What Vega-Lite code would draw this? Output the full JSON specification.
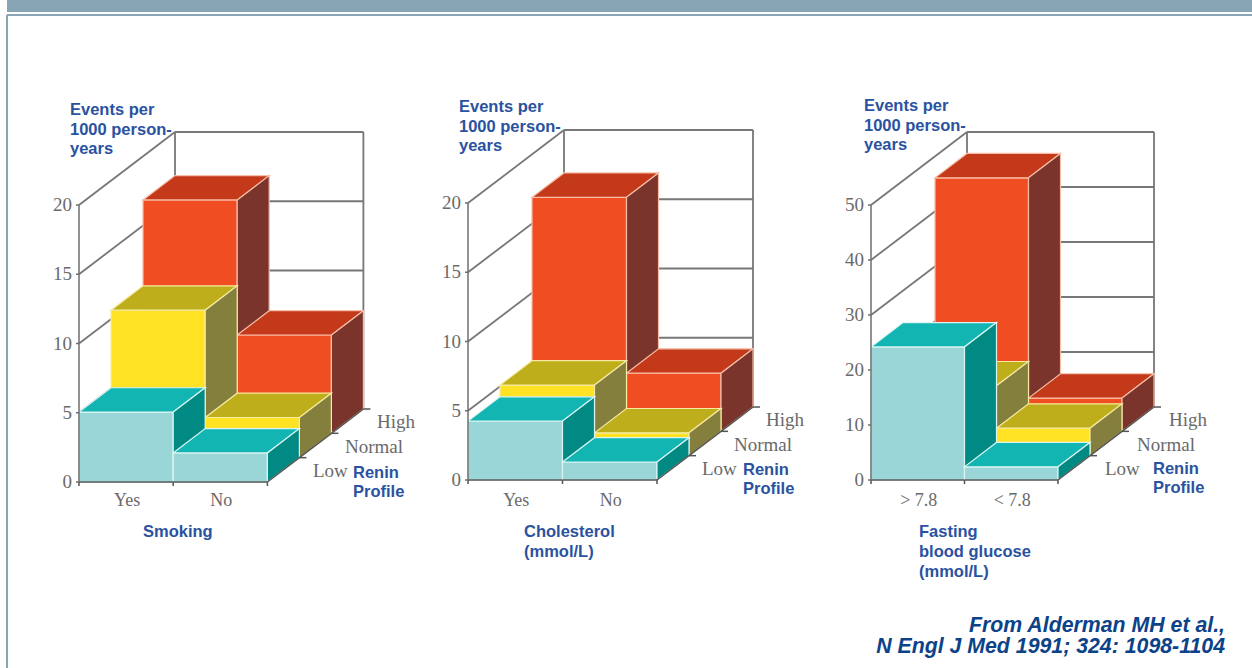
{
  "$schema": "https://vega.github.io/schema/vega-lite/v6.json",
  "autosize": {"type": "fit", "contains": "padding"},
  "width": 1252,
  "height": 668,
  "padding": 0,
  "background": "#ffffff",
  "config": {"view": {"stroke": null}},
  "params": [
    {"name": "panels", "value": ["Smoking", "Cholesterol", "Fasting blood glucose"]},
    {"name": "ox", "value": [79, 468, 871]},
    {"name": "oy", "value": [482, 480, 480]},
    {"name": "bw", "value": [94.2, 94.5, 93.5]},
    {"name": "unit", "value": [13.85, 13.85, 5.5]},
    {"name": "dx", "value": 32},
    {"name": "dy", "value": 24.33}
  ],
  "datasets": {
    "bars": [
      {"panel": "Smoking", "exposure": "Yes", "renin": "High", "value": 16.85},
      {"panel": "Smoking", "exposure": "No", "renin": "High", "value": 7.1},
      {"panel": "Smoking", "exposure": "Yes", "renin": "Normal", "value": 10.65},
      {"panel": "Smoking", "exposure": "No", "renin": "Normal", "value": 2.9},
      {"panel": "Smoking", "exposure": "Yes", "renin": "Low", "value": 5.05},
      {"panel": "Smoking", "exposure": "No", "renin": "Low", "value": 2.1},
      {"panel": "Cholesterol", "exposure": "Yes", "renin": "High", "value": 16.9},
      {"panel": "Cholesterol", "exposure": "No", "renin": "High", "value": 4.2},
      {"panel": "Cholesterol", "exposure": "Yes", "renin": "Normal", "value": 5.1},
      {"panel": "Cholesterol", "exposure": "No", "renin": "Normal", "value": 1.65},
      {"panel": "Cholesterol", "exposure": "Yes", "renin": "Low", "value": 4.25},
      {"panel": "Cholesterol", "exposure": "No", "renin": "Low", "value": 1.3},
      {"panel": "Fasting blood glucose", "exposure": "> 7.8", "renin": "High", "value": 46.1},
      {"panel": "Fasting blood glucose", "exposure": "< 7.8", "renin": "High", "value": 6.05},
      {"panel": "Fasting blood glucose", "exposure": "> 7.8", "renin": "Normal", "value": 12.7},
      {"panel": "Fasting blood glucose", "exposure": "< 7.8", "renin": "Normal", "value": 5.0},
      {"panel": "Fasting blood glucose", "exposure": "> 7.8", "renin": "Low", "value": 24.2},
      {"panel": "Fasting blood glucose", "exposure": "< 7.8", "renin": "Low", "value": 2.4}
    ],
    "ticks": [
      {"panel": "Smoking", "value": 0}, {"panel": "Smoking", "value": 5}, {"panel": "Smoking", "value": 10}, {"panel": "Smoking", "value": 15}, {"panel": "Smoking", "value": 20},
      {"panel": "Cholesterol", "value": 0}, {"panel": "Cholesterol", "value": 5}, {"panel": "Cholesterol", "value": 10}, {"panel": "Cholesterol", "value": 15}, {"panel": "Cholesterol", "value": 20},
      {"panel": "Fasting blood glucose", "value": 0}, {"panel": "Fasting blood glucose", "value": 10}, {"panel": "Fasting blood glucose", "value": 20}, {"panel": "Fasting blood glucose", "value": 30}, {"panel": "Fasting blood glucose", "value": 40}, {"panel": "Fasting blood glucose", "value": 50}
    ],
    "titles": [
      {"panel": "Smoking", "kind": "rate", "line": 0, "text": "Events per"},
      {"panel": "Smoking", "kind": "rate", "line": 1, "text": "1000 person-"},
      {"panel": "Smoking", "kind": "rate", "line": 2, "text": "years"},
      {"panel": "Smoking", "kind": "renin", "line": 0, "text": "Renin"},
      {"panel": "Smoking", "kind": "renin", "line": 1, "text": "Profile"},
      {"panel": "Smoking", "kind": "exposure", "line": 0, "text": "Smoking"},
      {"panel": "Cholesterol", "kind": "rate", "line": 0, "text": "Events per"},
      {"panel": "Cholesterol", "kind": "rate", "line": 1, "text": "1000 person-"},
      {"panel": "Cholesterol", "kind": "rate", "line": 2, "text": "years"},
      {"panel": "Cholesterol", "kind": "renin", "line": 0, "text": "Renin"},
      {"panel": "Cholesterol", "kind": "renin", "line": 1, "text": "Profile"},
      {"panel": "Cholesterol", "kind": "exposure", "line": 0, "text": "Cholesterol"},
      {"panel": "Cholesterol", "kind": "exposure", "line": 1, "text": "(mmol/L)"},
      {"panel": "Fasting blood glucose", "kind": "rate", "line": 0, "text": "Events per"},
      {"panel": "Fasting blood glucose", "kind": "rate", "line": 1, "text": "1000 person-"},
      {"panel": "Fasting blood glucose", "kind": "rate", "line": 2, "text": "years"},
      {"panel": "Fasting blood glucose", "kind": "renin", "line": 0, "text": "Renin"},
      {"panel": "Fasting blood glucose", "kind": "renin", "line": 1, "text": "Profile"},
      {"panel": "Fasting blood glucose", "kind": "exposure", "line": 0, "text": "Fasting"},
      {"panel": "Fasting blood glucose", "kind": "exposure", "line": 1, "text": "blood glucose"},
      {"panel": "Fasting blood glucose", "kind": "exposure", "line": 2, "text": "(mmol/L)"}
    ],
    "citation": [
      {"line": 0, "text": "From Alderman MH et al.,"},
      {"line": 1, "text": "N Engl J Med 1991; 324: 1098-1104"}
    ],
    "slide": [
      {"part": "band"},
      {"part": "top rule"},
      {"part": "left rule"}
    ]
  },
  "encoding": {
    "x": {"field": "px", "type": "quantitative", "scale": {"domain": [0, 1252], "nice": false, "zero": false}, "axis": null},
    "y": {"field": "py", "type": "quantitative", "scale": {"domain": [668, 0], "nice": false, "zero": false}, "axis": null}
  },
  "layer": [
    {
      "description": "Slide furniture: header band and thin frame",
      "data": {"name": "slide"},
      "transform": [
        {"calculate": "datum.part === 'left rule' ? 6 : 7", "as": "px"},
        {"calculate": "datum.part === 'left rule' ? 8 : 1252", "as": "qx"},
        {"calculate": "datum.part === 'band' ? 0 : datum.part === 'top rule' ? 14 : 15", "as": "py"},
        {"calculate": "datum.part === 'band' ? 12 : datum.part === 'top rule' ? 16 : 668", "as": "qy"}
      ],
      "mark": {"type": "rect", "fill": "#88a5b5"},
      "encoding": {"x2": {"field": "qx"}, "y2": {"field": "qy"}}
    },
    {
      "description": "Side wall and back wall grid of each box",
      "data": {"name": "ticks"},
      "transform": [
        {"calculate": "indexof(panels, datum.panel)", "as": "i"},
        {"joinaggregate": [{"op": "max", "field": "value", "as": "top"}], "groupby": ["panel"]},
        {"calculate": "oy[datum.i] - datum.value * unit[datum.i]", "as": "base"},
        {"calculate": "ox[datum.i]", "as": "left"},
        {"calculate": "oy[datum.i]", "as": "floor"},
        {"calculate": "2 * bw[datum.i]", "as": "span"},
        {"calculate": "[0, 1, 2, 3]", "as": "seg"},
        {"flatten": ["seg"]},
        {"filter": "datum.seg < 2 || datum.value === datum.top"},
        {"calculate": "datum.seg === 0 ? datum.left : datum.seg === 3 ? datum.left + datum.span + 3 * dx : datum.left + 3 * dx", "as": "px"},
        {"calculate": "datum.seg === 0 ? datum.base : datum.base - 3 * dy", "as": "py"},
        {"calculate": "datum.seg === 0 ? datum.left + 3 * dx : datum.seg === 2 ? datum.left + 3 * dx : datum.left + datum.span + 3 * dx", "as": "qx"},
        {"calculate": "datum.seg >= 2 ? datum.floor - 3 * dy : datum.base - 3 * dy", "as": "qy"}
      ],
      "mark": {"type": "rule", "stroke": "#777777", "strokeWidth": 1.8},
      "encoding": {"x2": {"field": "qx"}, "y2": {"field": "qy"}}
    },
    {
      "description": "Three visible faces of every bar, drawn back to front",
      "data": {"name": "bars"},
      "transform": [
        {"calculate": "indexof(panels, datum.panel)", "as": "i"},
        {"calculate": "indexof(['Yes', '> 7.8'], datum.exposure) >= 0 ? 0 : 1", "as": "c"},
        {"calculate": "indexof(['Low', 'Normal', 'High'], datum.renin)", "as": "r"},
        {"calculate": "ox[datum.i] + datum.c * bw[datum.i] + datum.r * dx", "as": "L"},
        {"calculate": "datum.L + bw[datum.i]", "as": "R"},
        {"calculate": "oy[datum.i] - datum.r * dy", "as": "B"},
        {"calculate": "datum.B - datum.value * unit[datum.i]", "as": "T"},
        {"calculate": "[0, 1, 2, 3, 4, 5, 6, 7, 8, 9, 10, 11]", "as": "k"},
        {"flatten": ["k"]},
        {"calculate": "floor(datum.k / 4)", "as": "f"},
        {"calculate": "datum.k % 4", "as": "corner"},
        {"calculate": "['front', 'top', 'side'][datum.f]", "as": "face"},
        {"calculate": "datum.renin + ' ' + datum.face", "as": "shade"},
        {"calculate": "datum.panel + datum.exposure + datum.renin + datum.face", "as": "polygon"},
        {"calculate": "datum.f === 0 ? [datum.L, datum.R, datum.R, datum.L][datum.corner] : datum.f === 1 ? [datum.L, datum.R, datum.R + dx, datum.L + dx][datum.corner] : [datum.R, datum.R + dx, datum.R + dx, datum.R][datum.corner]", "as": "px"},
        {"calculate": "datum.f === 0 ? [datum.B, datum.B, datum.T, datum.T][datum.corner] : datum.f === 1 ? [datum.T, datum.T, datum.T - dy, datum.T - dy][datum.corner] : [datum.B, datum.B - dy, datum.T - dy, datum.T][datum.corner]", "as": "py"}
      ],
      "mark": {"type": "line", "interpolate": "linear-closed", "strokeWidth": 1.2, "strokeJoin": "miter"},
      "encoding": {
        "order": {"field": "corner", "type": "quantitative"},
        "detail": {"field": "polygon"},
        "fill": {
          "field": "shade",
          "type": "nominal",
          "legend": null,
          "scale": {
            "domain": ["Low front", "Low top", "Low side", "Normal front", "Normal top", "Normal side", "High front", "High top", "High side"],
            "range": ["#9ad6d8", "#12b5b2", "#008a83", "#ffe224", "#bfae1c", "#857f3e", "#f04d22", "#c4391a", "#7a342c"]
          }
        },
        "stroke": {
          "field": "renin",
          "type": "nominal",
          "legend": null,
          "scale": {"domain": ["Low", "Normal", "High"], "range": ["#d9f4f2", "#f6eba0", "#f7bda6"]}
        }
      }
    },
    {
      "description": "Floor edges and tick marks in front of the bars",
      "data": {"name": "bars"},
      "transform": [
        {"calculate": "indexof(panels, datum.panel)", "as": "i"},
        {"calculate": "indexof(['Yes', '> 7.8'], datum.exposure) >= 0 ? 0 : 1", "as": "c"},
        {"calculate": "indexof(['Low', 'Normal', 'High'], datum.renin)", "as": "r"},
        {"calculate": "ox[datum.i] + datum.c * bw[datum.i]", "as": "L"},
        {"calculate": "ox[datum.i] + 2 * bw[datum.i]", "as": "E"},
        {"calculate": "oy[datum.i]", "as": "F"},
        {"calculate": "[0, 1, 2, 3, 4]", "as": "seg"},
        {"flatten": ["seg"]},
        {"filter": "(datum.seg === 0 && datum.r === 0) || (datum.seg === 1 && datum.r === 0) || (datum.seg === 2 && datum.r === 0 && datum.c === 1) || (datum.seg >= 3 && datum.c === 1)"},
        {"calculate": "datum.seg <= 1 ? datum.L : datum.seg === 2 ? datum.L + bw[datum.i] : datum.E + (datum.seg === 3 ? datum.r : datum.r + 1) * dx", "as": "px"},
        {"calculate": "datum.seg <= 2 ? datum.F : datum.F - (datum.seg === 3 ? datum.r : datum.r + 1) * dy", "as": "py"},
        {"calculate": "datum.seg === 0 ? datum.L + bw[datum.i] : datum.seg <= 2 ? datum.px : datum.seg === 3 ? datum.px + dx : datum.px + 7", "as": "qx"},
        {"calculate": "datum.seg === 0 ? datum.py : datum.seg <= 2 ? datum.py + 4 : datum.seg === 3 ? datum.py - dy : datum.py", "as": "qy"}
      ],
      "mark": {"type": "rule", "stroke": "#555555", "strokeWidth": 1.5},
      "encoding": {"x2": {"field": "qx"}, "y2": {"field": "qy"}}
    },
    {
      "description": "Front vertical axis with its tick marks",
      "data": {"name": "ticks"},
      "transform": [
        {"calculate": "indexof(panels, datum.panel)", "as": "i"},
        {"joinaggregate": [{"op": "max", "field": "value", "as": "top"}], "groupby": ["panel"]},
        {"calculate": "oy[datum.i] - datum.value * unit[datum.i]", "as": "base"},
        {"calculate": "[0, 1]", "as": "seg"},
        {"flatten": ["seg"]},
        {"filter": "datum.seg === 0 || datum.value === datum.top"},
        {"calculate": "datum.seg === 0 ? ox[datum.i] - 3 : ox[datum.i]", "as": "px"},
        {"calculate": "datum.base", "as": "py"},
        {"calculate": "ox[datum.i]", "as": "qx"},
        {"calculate": "datum.seg === 0 ? datum.base : oy[datum.i]", "as": "qy"}
      ],
      "mark": {"type": "rule", "stroke": "#6e6e6e", "strokeWidth": 1.5},
      "encoding": {"x2": {"field": "qx"}, "y2": {"field": "qy"}}
    },
    {
      "description": "Value labels on the front axis",
      "data": {"name": "ticks"},
      "transform": [
        {"calculate": "indexof(panels, datum.panel)", "as": "i"},
        {"calculate": "ox[datum.i] - 7", "as": "px"},
        {"calculate": "oy[datum.i] - datum.value * unit[datum.i]", "as": "py"}
      ],
      "mark": {"type": "text", "font": "Liberation Serif", "fontSize": 19, "align": "right", "baseline": "middle", "fill": "#6a6a6a"},
      "encoding": {"text": {"field": "value", "type": "quantitative"}}
    },
    {
      "description": "Exposure category labels under the front bars",
      "data": {"name": "bars"},
      "transform": [
        {"filter": "datum.renin === 'Low'"},
        {"calculate": "indexof(panels, datum.panel)", "as": "i"},
        {"calculate": "indexof(['Yes', '> 7.8'], datum.exposure) >= 0 ? 0 : 1", "as": "c"},
        {"calculate": "ox[datum.i] + (datum.c + 0.5) * bw[datum.i] + 1", "as": "px"},
        {"calculate": "501", "as": "py"}
      ],
      "mark": {"type": "text", "font": "Liberation Serif", "fontSize": 18, "align": "center", "baseline": "middle", "fill": "#6a6a6a"},
      "encoding": {"text": {"field": "exposure"}}
    },
    {
      "description": "Renin level labels along the floor edge",
      "data": {"name": "bars"},
      "transform": [
        {"filter": "datum.exposure === 'Yes' || datum.exposure === '> 7.8'"},
        {"calculate": "indexof(panels, datum.panel)", "as": "i"},
        {"calculate": "indexof(['Low', 'Normal', 'High'], datum.renin)", "as": "r"},
        {"calculate": "ox[datum.i] + [234, 266, 298][datum.r]", "as": "px"},
        {"calculate": "oy[datum.i] - [11, 35, 60][datum.r]", "as": "py"}
      ],
      "mark": {"type": "text", "font": "Liberation Serif", "fontSize": 19, "align": "left", "baseline": "middle", "fill": "#6a6a6a"},
      "encoding": {"text": {"field": "renin"}}
    },
    {
      "description": "Blue axis titles",
      "data": {"name": "titles"},
      "transform": [
        {"calculate": "indexof(panels, datum.panel)", "as": "i"},
        {"calculate": "datum.kind === 'rate' ? [70, 459, 864][datum.i] : datum.kind === 'renin' ? [353, 743, 1153][datum.i] : [143, 524, 919][datum.i]", "as": "px"},
        {"calculate": "datum.kind === 'rate' ? [110, 107, 106][datum.i] + datum.line * 19.7 : datum.kind === 'renin' ? [473, 470, 469][datum.i] + datum.line * 19 : 532 + datum.line * 20", "as": "py"}
      ],
      "mark": {"type": "text", "font": "Liberation Sans", "fontWeight": "bold", "fontSize": 16.5, "align": "left", "baseline": "middle", "fill": "#2a52a0"},
      "encoding": {"text": {"field": "text"}}
    },
    {
      "description": "Source citation",
      "data": {"name": "citation"},
      "transform": [
        {"calculate": "1225", "as": "px"},
        {"calculate": "625.5 + datum.line * 21.5", "as": "py"}
      ],
      "mark": {"type": "text", "font": "Liberation Sans", "fontWeight": "bold", "fontStyle": "italic", "fontSize": 21.3, "align": "right", "baseline": "middle", "fill": "#0b4288"},
      "encoding": {"text": {"field": "text"}}
    }
  ]
}
